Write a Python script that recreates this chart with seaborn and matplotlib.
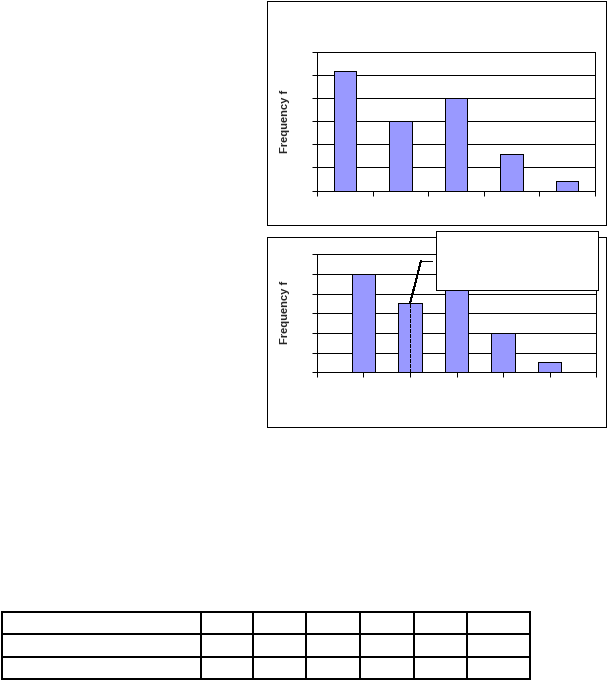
import matplotlib
matplotlib.use("Agg")
import matplotlib.pyplot as plt
import seaborn as sns
import numpy as np
from matplotlib.patches import Rectangle, ConnectionPatch
from matplotlib.lines import Line2D

# data (no class labels are shown in the reference)
top_classes = ["c1", "c2", "c3", "c4", "c5"]
top_freq = [26, 15, 20, 8, 2]
bot_pos = [1, 2, 3, 4, 5]
bot_freq = [20, 14, 20, 8, 2]   # 3rd bar is partly hidden by the callout

W, H, DPI = 607, 680, 100
LW = 0.72  # 1 px
BAR = "#9999FF"

sns.set_theme(style="white")
plt.rcParams["font.family"] = ["Liberation Sans", "DejaVu Sans"]
plt.rcParams["lines.antialiased"] = False
plt.rcParams["patch.antialiased"] = False

fig = plt.figure(figsize=(W / DPI, H / DPI), dpi=DPI)


def frac(x0, y0, x1, y1):
    # pixel box (y measured from top) -> figure fraction rect
    return [x0 / W, 1 - y1 / H, (x1 - x0) / W, (y1 - y0) / H]


def style(ax):
    for s in ax.spines.values():
        s.set_visible(True)
        s.set_color("black")
        s.set_linewidth(LW)
        s.set_antialiased(False)
    ax.grid(axis="y", color="black", linewidth=LW, antialiased=False)
    ax.set_axisbelow(True)
    ax.tick_params(axis="both", direction="out", length=3.5, width=LW,
                   color="black", labelleft=False, labelbottom=False,
                   left=True, bottom=True)
    ax.set_xlabel("")
    ax.set_ylabel("")
    ax.set_facecolor("white")


# chart frames
for r in [(266.5, 1.5, 605.5, 225.5), (266.5, 236.5, 605.5, 426.5)]:
    fig.add_artist(Rectangle((r[0] / W, 1 - r[3] / H), (r[2] - r[0]) / W,
                             (r[3] - r[1]) / H, transform=fig.transFigure,
                             fill=False, edgecolor="black", lw=LW, zorder=0.5,
                             antialiased=False))

# top chart
ax1 = fig.add_axes(frac(317, 52.3, 595, 190.5))
sns.barplot(x=top_classes, y=top_freq, color=BAR, saturation=1, width=0.4,
            edgecolor="black", linewidth=LW, ax=ax1)
ax1.set_xlim(-0.5, 4.5)
ax1.set_xticks(np.arange(-0.5, 5, 1))
ax1.set_ylim(0, 30)
ax1.set_yticks(range(0, 31, 5))
style(ax1)
fig.text(284.5 / W, 1 - 121 / H, "Frequency f", rotation=90, ha="center",
         va="center", fontsize=8, fontweight="bold")

# bottom chart
ax2 = fig.add_axes(frac(317, 254.3, 596, 372.3))
sns.barplot(x=bot_pos, y=bot_freq, native_scale=True, color=BAR, saturation=1,
            width=0.5, edgecolor="black", linewidth=LW, ax=ax2)
ax2.set_xlim(0, 6)
ax2.set_xticks(range(0, 7))
ax2.set_ylim(0, 24)
ax2.set_yticks(range(0, 25, 4))
style(ax2)
fig.text(285 / W, 1 - 312 / H, "Frequency f", rotation=90, ha="center",
         va="center", fontsize=8, fontweight="bold")

# dashed marker on the 2nd bar and callout leader
ax2.plot([bot_pos[1]] * 2, [0, bot_freq[1]], color="black", lw=LW,
         ls=(0, (3, 2)), zorder=4)
fig.add_artist(ConnectionPatch(xyA=(bot_pos[1], bot_freq[1]), coordsA=ax2.transData,
                               xyB=(421, H - 261), coordsB="figure pixels",
                               color="black", lw=LW, zorder=4))
fig.add_artist(Line2D([421 / W, 431.7 / W], [1 - 261 / H] * 2,
                      transform=fig.transFigure, color="black", lw=LW, zorder=4))
fig.add_artist(Rectangle((436 / W, 1 - 290.3 / H), (598.3 - 436) / W,
                         (290.3 - 231) / H, transform=fig.transFigure,
                         facecolor="white", edgecolor="black", lw=LW, zorder=5,
                         antialiased=False))

# empty table at the bottom
cols = [1.7, 200.7, 253.3, 306, 360, 414, 466.7, 530]
rows = [612.3, 634.3, 657.3, 679]
TLW = 1.3
for y in rows:
    fig.add_artist(Line2D([cols[0] / W, cols[-1] / W], [1 - y / H] * 2,
                          transform=fig.transFigure, color="black", lw=TLW))
for x in cols:
    fig.add_artist(Line2D([x / W] * 2, [1 - rows[0] / H, 1 - rows[-1] / H],
                          transform=fig.transFigure, color="black", lw=TLW))

fig.savefig("out.png", dpi=DPI, facecolor="white")
